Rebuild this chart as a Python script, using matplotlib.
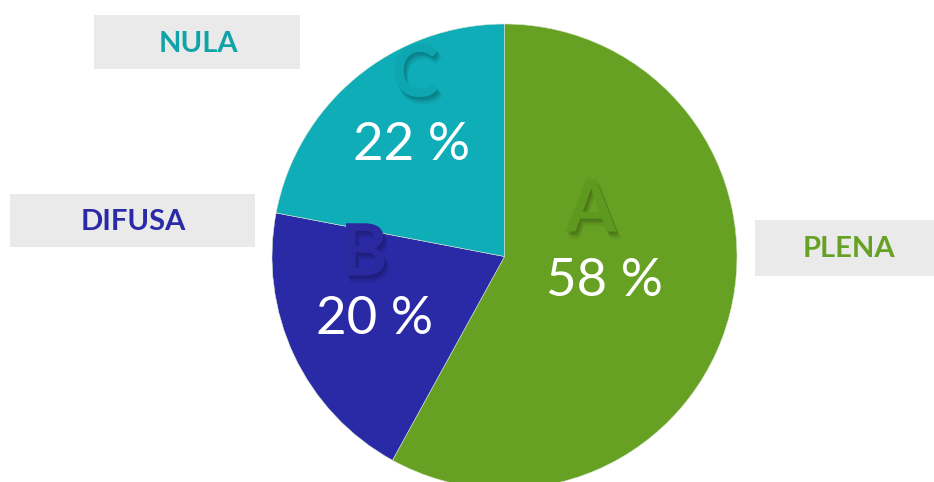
import matplotlib
matplotlib.use("Agg")
import matplotlib.pyplot as plt
import matplotlib.patheffects as pe
from matplotlib.patches import Rectangle

# Data
letters = ["A", "B", "C"]
categories = ["PLENA", "DIFUSA", "NULA"]
values = [58, 20, 22]

slice_colors = ["#67a123", "#2b2aa6", "#0fadb7"]
letter_colors = ["#5f9a20", "#2a29a0", "#0ea6b0"]
category_colors = ["#67a123", "#2b2aa6", "#11a3aa"]

W, H = 934, 482
fig = plt.figure(figsize=(W / 100, H / 100), dpi=100)
ax = fig.add_axes([0, 0, 1, 1])


def Y(y):
    return H - y


cx, cy, r = 504.5, 256.5, 232.5
ax.pie(values, colors=slice_colors, startangle=90, counterclock=False,
       center=(cx, Y(cy)), radius=r,
       wedgeprops=dict(edgecolor="#d8e8d0", linewidth=0.4))

ax.set_xlim(0, W)
ax.set_ylim(0, H)
ax.set_aspect("equal")
ax.axis("off")

# In-slice letter and percentage positions (pixels from top-left)
letter_pos = [(591, 211), (364, 255), (415, 76)]
pct_pos = [(604, 281), (375, 319), (412, 146)]

# soft drop shadow built from a few faint offset copies
shadow = [pe.SimplePatchShadow(offset=(dx, dy), shadow_rgbFace="black", alpha=a)
          for dx, dy, a in [(1, -1.5, 0.06), (2, -3, 0.07), (3, -4.5, 0.05),
                            (2.5, -5.5, 0.03), (1.5, -2.5, 0.05)]] + [pe.Normal()]
for i, v in enumerate(values):
    lx, ly = letter_pos[i]
    ax.text(lx, Y(ly), letters[i], ha="center", va="center", fontsize=52,
            fontfamily="Lato", fontweight="bold", color=letter_colors[i],
            path_effects=shadow)
    px, py = pct_pos[i]
    ax.text(px, Y(py), f"{v} %", ha="center", va="center", fontsize=38,
            fontfamily="Lato", color="white")

# Category tags
boxes = [(755, 220, 179, 56), (10, 194, 245, 53), (94, 15, 206, 54)]
tag_pos = [(849, 249), (133, 222), (198, 44)]
for i, cat in enumerate(categories):
    bx, by, bw, bh = boxes[i]
    ax.add_patch(Rectangle((bx, Y(by + bh)), bw, bh, facecolor="#eaeaea",
                           edgecolor="none", zorder=3))
    tx, ty = tag_pos[i]
    ax.text(tx, Y(ty), cat, ha="center", va="center", fontsize=21,
            fontfamily="Lato", fontweight="bold", color=category_colors[i],
            zorder=4)

fig.savefig("out.png", dpi=100)
